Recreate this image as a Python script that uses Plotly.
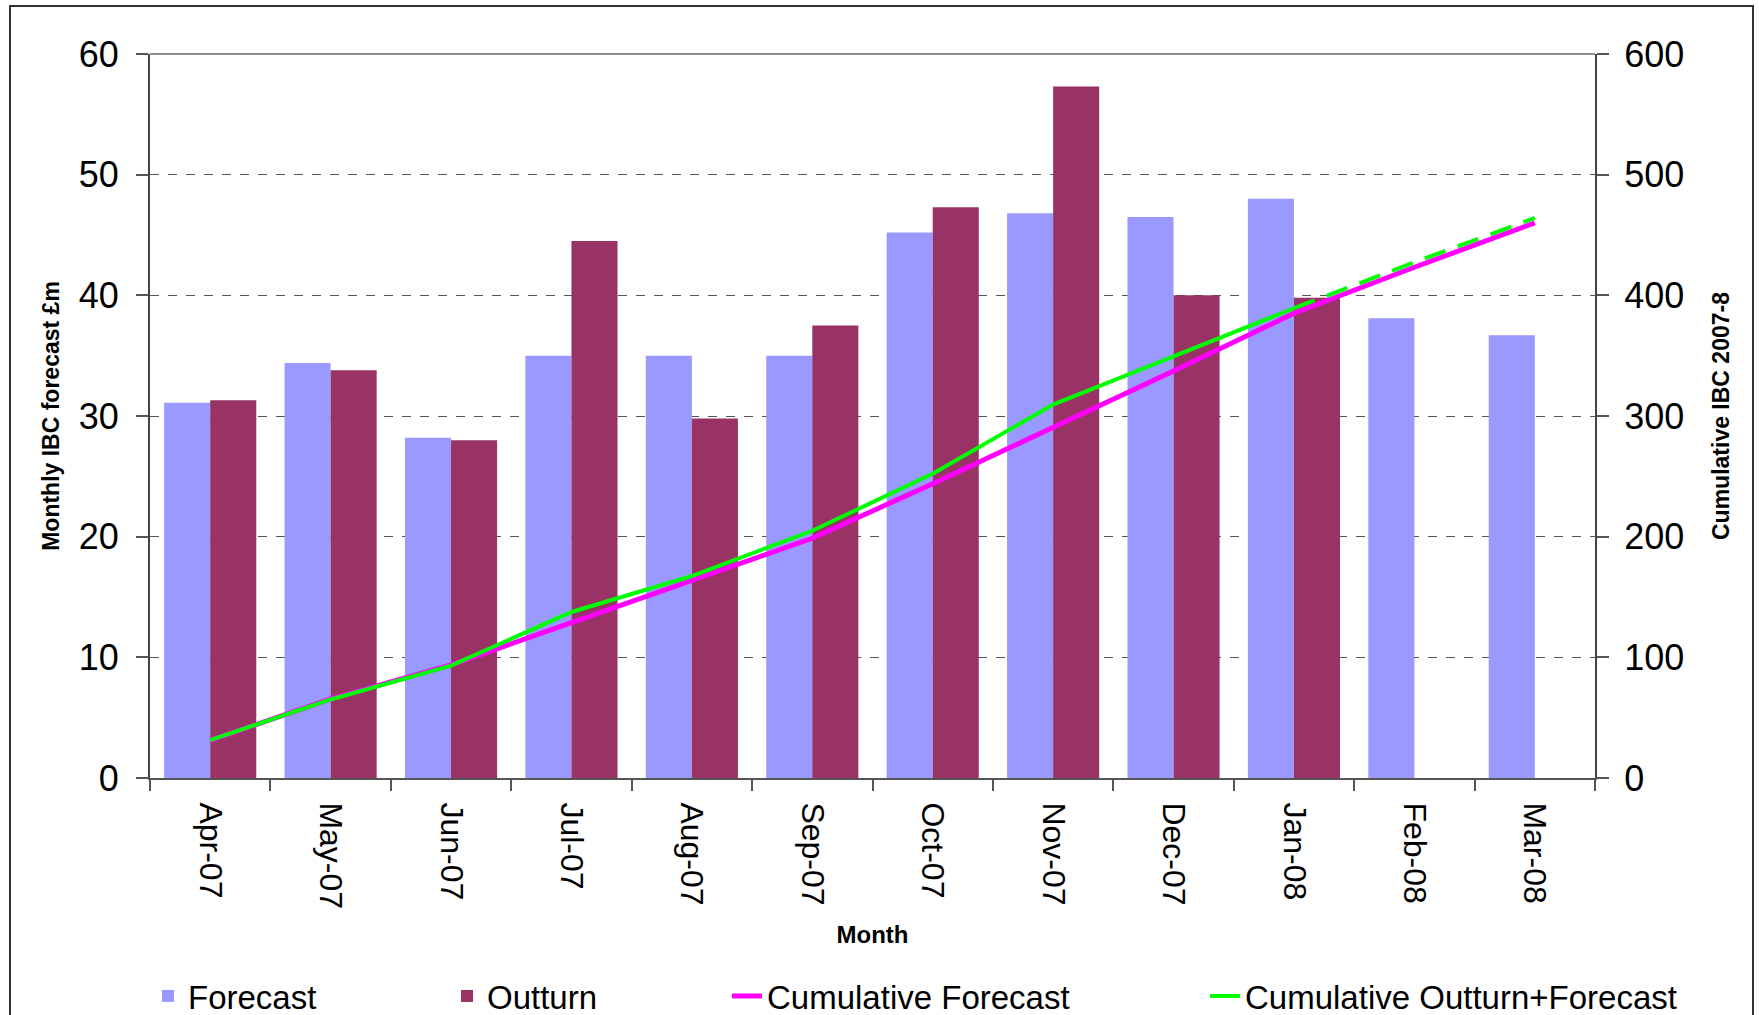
import plotly.graph_objects as go

months = ["Apr-07", "May-07", "Jun-07", "Jul-07", "Aug-07", "Sep-07",
          "Oct-07", "Nov-07", "Dec-07", "Jan-08", "Feb-08", "Mar-08"]
forecast = [31.1, 34.4, 28.2, 35.0, 35.0, 35.0, 45.2, 46.8, 46.5, 48.0, 38.1, 36.7]
outturn = [31.3, 33.8, 28.0, 44.5, 29.8, 37.5, 47.3, 57.3, 40.0, 39.8]
cum_forecast = [31.1, 65.5, 93.7, 128.7, 163.7, 198.7, 243.9, 290.7, 337.2, 385.2, 423.3, 460.0]
cum_outturn_forecast = [31.3, 65.1, 93.1, 137.6, 167.4, 204.9, 252.2, 309.5, 349.5, 389.3, 427.4, 464.1]
n_actual = len(outturn)  # solid up to last outturn month, dashed afterwards

FONT = "Liberation Sans, Arial, sans-serif"
W, H = 1759, 1015
L, R, T, B = 150, 164, 54, 237
pw = W - L - R
ph = H - T - B

fig = go.Figure()
fig.add_trace(go.Bar(x=months, y=forecast, name="Forecast", marker_color="#9999FF",
                     marker_line_width=0, legend="legend"))
fig.add_trace(go.Bar(x=months[:n_actual], y=outturn, name="Outturn", marker_color="#993366",
                     marker_line_width=0, legend="legend2"))
fig.add_trace(go.Scatter(x=months, y=cum_forecast, name="Cumulative Forecast", mode="lines",
                         line=dict(color="#FF00FF", width=5), yaxis="y2", legend="legend3"))
fig.add_trace(go.Scatter(x=months[:n_actual], y=cum_outturn_forecast[:n_actual],
                         name="Cumulative Outturn+Forecast", mode="lines",
                         line=dict(color="#00FF00", width=4), yaxis="y2", legend="legend4"))
fig.add_trace(go.Scatter(x=months[n_actual - 1:], y=cum_outturn_forecast[n_actual - 1:],
                         name="Cumulative Outturn+Forecast", mode="lines", showlegend=False,
                         line=dict(color="#00FF00", width=4, dash="22px,13px"), yaxis="y2"))

def px2x(p):
    return (p - L) / pw

def px2y(p):
    return (H - B - p) / ph

legend_common = dict(orientation="h", xref="container", yref="container", yanchor="middle",
                     y=1 - 996 / H, font=dict(family=FONT, size=33, color="black"),
                     bgcolor="rgba(0,0,0,0)", itemwidth=30)

fig.update_layout(
    width=W, height=H,
    margin=dict(l=L, r=R, t=T, b=B, autoexpand=False),
    paper_bgcolor="white", plot_bgcolor="white",
    barmode="group", bargap=0.235, bargroupgap=0,
    font=dict(family=FONT, color="black"),
    xaxis=dict(type="category", tickson="boundaries", ticks="outside", ticklen=11,
               tickcolor="#555555", tickwidth=2, showline=True, linecolor="#555555", linewidth=2,
               tickangle=90, tickfont=dict(size=32), ticklabelstandoff=16,
               title=dict(text="<b>Month</b>", font=dict(size=24), standoff=18),
               showgrid=False, automargin=False, range=[-0.5, 11.5]),
    yaxis=dict(range=[0, 60], dtick=10, ticks="outside", ticklen=12, tickcolor="#555555", tickwidth=2,
               showline=True, linecolor="#444444", linewidth=2, tickfont=dict(size=36),
               ticklabelstandoff=10,
               showgrid=True, gridcolor="#555555", griddash="dash", gridwidth=1,
               zeroline=False, automargin=False,
               title=dict(text="<b>Monthly IBC forecast £m</b>", font=dict(size=23), standoff=13)),
    yaxis2=dict(range=[0, 600], dtick=100, overlaying="y", side="right", anchor="x",
                ticks="outside", ticklen=12, tickcolor="#555555", tickwidth=2,
                showline=True, linecolor="#444444", linewidth=2, tickfont=dict(size=36),
                ticklabelstandoff=8, showgrid=False, zeroline=False, automargin=False,
                title=dict(text="<b>Cumulative IBC 2007-8</b>", font=dict(size=23), standoff=30)),
    legend=dict(x=(188 - 40) / W, **legend_common),
    legend2=dict(x=(487 - 40) / W, **legend_common),
    legend3=dict(x=(767 - 40) / W, **legend_common),
    legend4=dict(x=(1245 - 40) / W, **legend_common),
    shapes=[
        dict(type="line", xref="paper", yref="paper", x0=0, x1=1, y0=1, y1=1,
             line=dict(color="#909090", width=2), layer="below"),
        dict(type="rect", xref="paper", yref="paper", x0=px2x(10), x1=px2x(1753),
             y0=px2y(1030), y1=px2y(6), line=dict(color="#333333", width=2), layer="below"),
    ],
)

fig.write_html("out.html", config={"displayModeBar": False},
               post_script="document.body.style.margin='0';")
